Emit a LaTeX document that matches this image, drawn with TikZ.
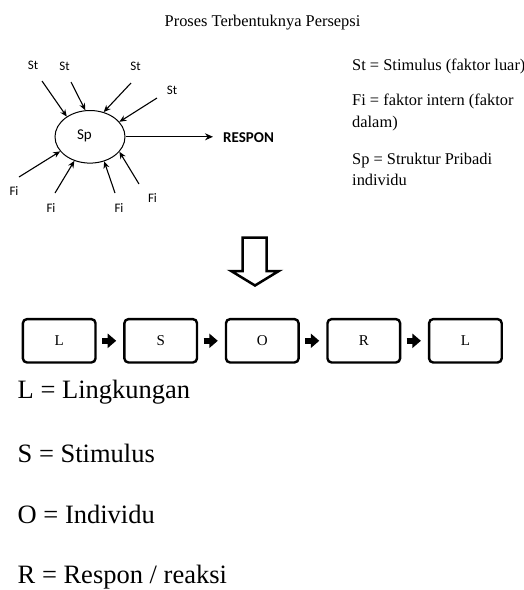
\documentclass[tikz,border=0pt]{standalone}
\usepackage{fontspec}
\setmainfont{Liberation Serif}
\newfontfamily\calib{Carlito}
\usetikzlibrary{arrows.meta,shapes.geometric}
\begin{document}
\begin{tikzpicture}[x=1pt,y=-1pt,
  serif/.style={inner sep=0pt, anchor=base west, font=\fontsize{16.4}{21.3}\selectfont},
  sans/.style={inner sep=0pt, font=\calib\fontsize{13}{15}\selectfont},
  inarrow/.style={line width=1.1pt, -{Stealth[length=7pt,width=6pt]}},
  letterbox/.style={draw, line width=2.4pt, rounded corners=4pt, minimum width=72.6pt, minimum height=43.3pt, inner sep=0pt, font=\fontsize{15}{18}\selectfont},
  flowarrow/.style={line width=6.6pt, -{Triangle[length=8.5pt,width=14pt]}, shorten <=5.3pt, shorten >=7pt},
  bigtext/.style={anchor=base west, inner sep=0pt, font=\fontsize{26.5}{31}\selectfont}]
\useasboundingbox (0,0) rectangle (524,590);

% title
\node[inner sep=0pt, anchor=base, font=\fontsize{16.4}{20}\selectfont] (title) at (262.5,26.7) {Proses Terbentuknya Persepsi};

% ellipse
\node[ellipse, draw, line width=1pt, minimum width=70pt, minimum height=52.6pt, inner sep=0pt] (sp) at (90,136.8) {};
\node[inner sep=0pt, anchor=base, font=\calib\fontsize{15}{18}\selectfont] (sptext) at (84.5,139.5) {Sp};

% stimulus labels
\node[sans] (st1) at (33,65) {St};
\node[sans] (st2) at (64.5,66.5) {St};
\node[sans] (st3) at (135.5,66.5) {St};
\node[sans] (st4) at (172,90.5) {St};
% intern labels
\node[sans] (fi1) at (14,191.5) {Fi};
\node[sans] (fi2) at (51,208) {Fi};
\node[sans] (fi3) at (119,208) {Fi};
\node[sans] (fi4) at (152.5,198.5) {Fi};

% arrow tails
\coordinate (ts1) at (42,81);
\coordinate (ts2) at (71,82);
\coordinate (ts3) at (131,83);
\coordinate (ts4) at (157,98);
\coordinate (tf1) at (19,177);
\coordinate (tf2) at (55,193);
\coordinate (tf3) at (115,193);
\coordinate (tf4) at (139,184);

\draw[inarrow] (ts1) -- (sp.139);
\draw[inarrow] (ts2) -- (sp.100);
\draw[inarrow] (ts3) -- (sp.61);
\draw[inarrow] (ts4) -- (sp.27);
\draw[inarrow] (tf1) -- (sp.206);
\draw[inarrow] (tf2) -- (sp.237);
\draw[inarrow] (tf3) -- (sp.300);
\draw[inarrow] (tf4) -- (sp.333);

% respon
\node[inner ysep=0pt, inner xsep=0pt, anchor=west, font=\calib\bfseries\fontsize{15}{18}\selectfont] (respon) at (223,137.8) {RESPON};
\draw[line width=1.1pt, -{Stealth[length=8pt,width=7pt]}, shorten >=10pt] (sp.east) -- (sp.east -| respon.west);

% legend
\node[serif] (lst) at (352,70.7) {St = Stimulus (faktor luar)};
\node[serif] (lfi) at (352,105.7) {Fi = faktor intern (faktor};
\node[serif] (lfi2) at (352,127) {dalam)};
\node[serif] (lsp) at (352,164) {Sp = Struktur Pribadi};
\node[serif] (lsp2) at (352,185.3) {individu};

% big hollow down arrow
\draw[line width=2.5pt, line join=miter] (242.5,237.5) -- (242.5,271) -- (231.2,271) -- (255,285.5) -- (278.8,271) -- (266.5,271) -- (266.5,237.5) -- cycle;

% boxes
\node[letterbox] (b1) at (59.2,340.8) {L};
\node[letterbox] (b2) at (160.7,340.8) {S};
\node[letterbox] (b3) at (262.3,340.8) {O};
\node[letterbox] (b4) at (363.8,340.8) {R};
\node[letterbox] (b5) at (465.4,340.8) {L};

\draw[flowarrow] (b1.east) -- (b2.west);
\draw[flowarrow] (b2.east) -- (b3.west);
\draw[flowarrow] (b3.east) -- (b4.west);
\draw[flowarrow] (b4.east) -- (b5.west);

% bottom legend
\node[bigtext] (kl) at (17.5,398) {L = Lingkungan};
\node[bigtext] (ks) at (17.5,462) {S = Stimulus};
\node[bigtext] (ko) at (17.5,523) {O = Individu};
\node[bigtext] (kr) at (17.5,583.8) {R = Respon / reaksi};
\end{tikzpicture}
\end{document}
